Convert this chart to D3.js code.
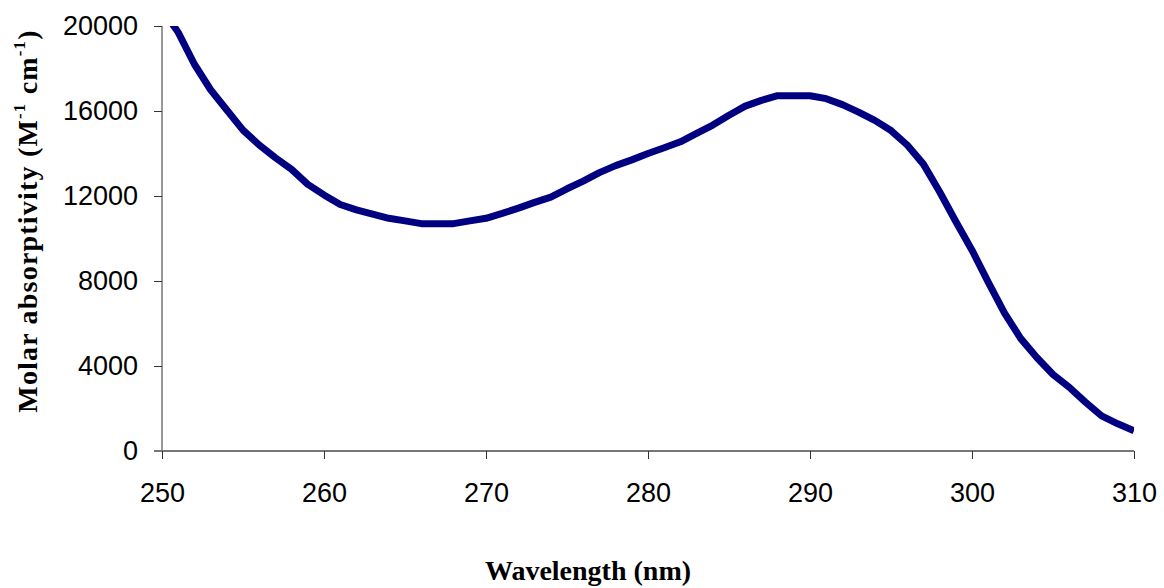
<!DOCTYPE html>
<html>
<head>
<meta charset="utf-8">
<script src="https://cdn.jsdelivr.net/npm/d3@7"></script>
<style>
    body { margin: 0; background: #fff; }
    .tick-label { font-family: 'Liberation Sans', Arial, sans-serif; font-size: 27px; fill: #000; }
    .axis-title { font-family: 'Liberation Serif', 'Times New Roman', serif; font-weight: bold; font-size: 28px; fill: #000; }
</style>
</head>
<body>
<svg id="chart" width="1164" height="588"></svg>
<script>
// wavelength (nm) and molar absorptivity
const wavelengths = [
    250, 251, 252, 253, 254, 255, 256, 257, 258, 259,
    260, 261, 262, 263, 264, 265, 266, 267, 268, 269,
    270, 271, 272, 273, 274, 275, 276, 277, 278, 279,
    280, 281, 282, 283, 284, 285, 286, 287, 288, 289,
    290, 291, 292, 293, 294, 295, 296, 297, 298, 299,
    300, 301, 302, 303, 304, 305, 306, 307, 308, 309, 310
];
const absorptivity = [
    20800, 19700, 18200, 17000, 16050, 15100, 14400, 13800, 13250, 12550,
    12050, 11600, 11350, 11150, 10950, 10830, 10700, 10700, 10700, 10830,
    10950, 11180, 11430, 11700, 11950, 12340, 12700, 13100, 13430, 13700,
    14000, 14270, 14550, 14950, 15340, 15800, 16230, 16500, 16720, 16720,
    16720, 16580, 16300, 15950, 15560, 15080, 14400, 13500, 12200, 10800,
    9450, 7950, 6500, 5300, 4400, 3600, 3000, 2300, 1650, 1280, 950
];
const xTicks = [250, 260, 270, 280, 290, 300, 310];
const yTicks = [0, 4000, 8000, 12000, 16000, 20000];

const params = {
    padding: { top: 26, right: 30, bottom: 137, left: 162 },
    lineColor: '#000080',
    lineWidth: 7,
    tickSize: 8
};

const svg = d3.select('#chart');
const width = +svg.attr('width');
const height = +svg.attr('height');
const p = params.padding;

const x = d3.scaleLinear()
    .domain([250, 310])
    .range([p.left, width - p.right]);
const y = d3.scaleLinear()
    .domain([0, 20000])
    .range([height - p.bottom, p.top]);

const points = wavelengths.map((w, i) => ({ w, v: absorptivity[i] }));

// Excel clips the first point, which sits above the 20000 line
svg.append('clipPath')
    .attr('id', 'plot-clip')
    .append('rect')
    .attr('x', x(250))
    .attr('y', y(20000))
    .attr('width', x(310) - x(250))
    .attr('height', y(0) - y(20000));

// y axis
const yAxis = svg.append('g')
    .attr('transform', `translate(${x(250)},0)`)
    .call(d3.axisLeft(y).tickValues(yTicks).tickSize(params.tickSize).tickPadding(16).tickFormat(d3.format('d')));
yAxis.select('.domain')
    .attr('stroke', '#333')
    .attr('stroke-width', 1)
    .attr('d', `M0,${y(20000)}V${y(0)}`);
yAxis.selectAll('.tick line').attr('stroke', '#333');
yAxis.selectAll('.tick text').attr('class', 'tick-label').attr('font-size', null).attr('font-family', null);

// x axis
const xAxis = svg.append('g')
    .attr('transform', `translate(0,${y(0)})`)
    .call(d3.axisBottom(x).tickValues(xTicks).tickSize(params.tickSize).tickPadding(24));
xAxis.select('.domain')
    .attr('stroke', '#777')
    .attr('stroke-width', 2)
    .attr('d', `M${x(250) - params.tickSize},0H${x(310)}`);
xAxis.selectAll('.tick line').attr('stroke', '#333');
xAxis.selectAll('.tick text').attr('class', 'tick-label').attr('font-size', null).attr('font-family', null);

// spectrum
svg.append('path')
    .datum(points)
    .attr('clip-path', 'url(#plot-clip)')
    .attr('fill', 'none')
    .attr('stroke', params.lineColor)
    .attr('stroke-width', params.lineWidth)
    .attr('stroke-linejoin', 'round')
    .attr('d', d3.line().x(d => x(d.w)).y(d => y(d.v)));

// axis titles
svg.append('text')
    .attr('class', 'axis-title')
    .attr('text-anchor', 'middle')
    .attr('x', 588)
    .attr('y', 580)
    .text('Wavelength (nm)');

const yTitle = svg.append('text')
    .attr('class', 'axis-title')
    .attr('text-anchor', 'middle')
    .attr('letter-spacing', '1.2px')
    .attr('transform', 'translate(37,221) rotate(-90)');
yTitle.append('tspan').text('Molar absorptivity (M');
yTitle.append('tspan').attr('font-size', '60%').attr('dy', '-0.7em').text('-1');
yTitle.append('tspan').attr('dy', '0.42em').text(' cm');
yTitle.append('tspan').attr('font-size', '60%').attr('dy', '-0.7em').text('-1');
yTitle.append('tspan').attr('dy', '0.42em').text(')');
</script>
</body>
</html>
